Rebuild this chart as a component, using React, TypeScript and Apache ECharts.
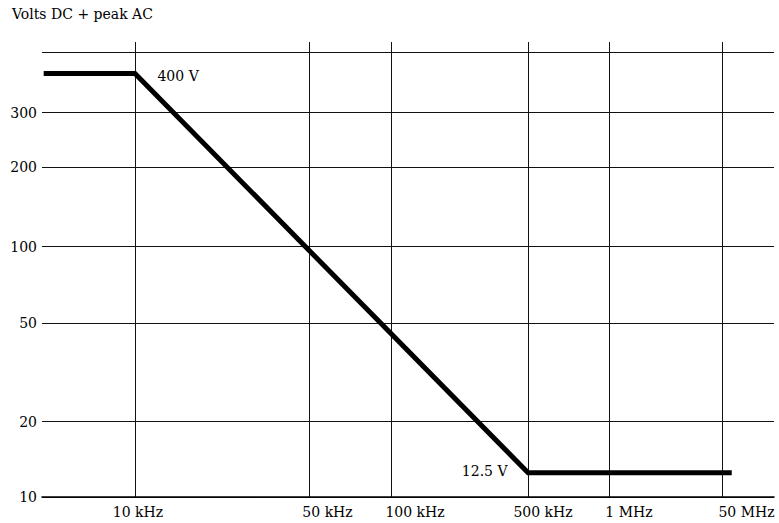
import React, { useEffect, useRef } from "react";
import * as echarts from "echarts";

// ---------- data ----------
const freqTickHz = [1e4, 5e4, 1e5, 5e5, 1e6, 5e7];
const freqTickLabels = ["10 kHz", "50 kHz", "100 kHz", "500 kHz", "1 MHz", "50 MHz"];
const voltTickValues = [10, 20, 50, 100, 200, 300];
const voltTickLabels = ["10", "20", "50", "100", "200", "300"];
const curveFreqHz = [4.3e3, 1e4, 5e5, 7e7];
const curveVolts = [400, 400, 12.5, 12.5];
const annotationFreqHz = [1e4, 5e5];
const annotationVolts = [400, 12.5];
const annotationTexts = ["400 V", "12.5 V"];
const yAxisTitle = "Volts DC + peak AC";

// ---------- axis layout (the schematic, non-uniform log grid of the original) ----------
const PLOT = { left: 42, top: 42, width: 732, height: 455 };
const xGridFrac = [0.127, 0.3648, 0.4768, 0.664, 0.7746, 0.929];
const yGridFrac = [0, 0.1655, 0.3818, 0.5505, 0.7242, 0.845];
const yTopRuleFrac = 0.977;
const xLabelShiftPx = [3, 18.5, 24, 15, 20, 24.5];
const FONT = "DejaVu Serif";
const FONT_SIZE = 14;

// piecewise log scale through the labelled grid lines
function makeLogWarp(vals: number[], units: number[]) {
  const lv = vals.map((v) => Math.log10(v));
  const n = lv.length;
  return (v: number) => {
    const x = Math.log10(v);
    let i = 0;
    if (x <= lv[0]) i = 0;
    else if (x >= lv[n - 1]) i = n - 2;
    else {
      while (i < n - 2 && x > lv[i + 1]) i++;
    }
    const t = (x - lv[i]) / (lv[i + 1] - lv[i]);
    return units[i] + t * (units[i + 1] - units[i]);
  };
}

const wx = makeLogWarp(freqTickHz, xGridFrac);
const wy = makeLogWarp(voltTickValues, yGridFrac);

export default function App() {
  const ref = useRef<HTMLDivElement>(null);
  useEffect(() => {
    if (!ref.current) return;
    const chart = echarts.init(ref.current, undefined, { renderer: "svg" });

    const xTickUnits = freqTickHz.map(wx);
    const xLabelUnits = xTickUnits.map((u, i) => u + xLabelShiftPx[i] / PLOT.width);
    const yTickUnits = voltTickValues.map(wy);

    const findIdx = (arr: number[], v: number) => {
      let best = -1;
      let bd = Infinity;
      arr.forEach((a, i) => {
        const d = Math.abs(a - v);
        if (d < bd) {
          bd = d;
          best = i;
        }
      });
      return bd < 1e-6 ? best : -1;
    };

    const option: any = {
      animation: false,
      textStyle: { fontFamily: FONT, color: "#000" },
      title: {
        text: yAxisTitle,
        left: 12,
        top: 7,
        padding: 0,
        textStyle: { fontFamily: FONT, fontSize: FONT_SIZE, fontWeight: "normal", color: "#000" },
      },
      grid: {
        left: PLOT.left,
        top: PLOT.top,
        width: PLOT.width,
        height: PLOT.height,
        containLabel: false,
        outerBoundsMode: "none",
      },
      xAxis: {
        type: "value",
        min: 0,
        max: 1,
        axisLine: { show: true, lineStyle: { color: "#000", width: 1.6 } },
        axisTick: { show: false, customValues: xTickUnits },
        splitLine: { show: true, lineStyle: { color: "#111", width: 1 } },
        axisLabel: {
          customValues: xLabelUnits,
          margin: 8,
          fontFamily: FONT,
          fontSize: FONT_SIZE,
          color: "#000",
          formatter: (v: number) => {
            const i = findIdx(xLabelUnits, v);
            return i >= 0 ? freqTickLabels[i] : "";
          },
        },
      },
      yAxis: {
        type: "value",
        min: 0,
        max: 1,
        axisLine: { show: false },
        axisTick: { show: false, customValues: [...yTickUnits, yTopRuleFrac] },
        splitLine: { show: true, lineStyle: { color: "#111", width: 1 } },
        axisLabel: {
          customValues: yTickUnits,
          margin: 5,
          fontFamily: FONT,
          fontSize: FONT_SIZE,
          color: "#000",
          formatter: (v: number) => {
            const i = findIdx(yTickUnits, v);
            return i >= 0 ? voltTickLabels[i] : "";
          },
        },
      },
      series: [
        {
          type: "line",
          data: curveFreqHz.map((f, i) => [wx(f), wy(curveVolts[i])]),
          showSymbol: false,
          symbol: "none",
          clip: true,
          lineStyle: { color: "#000", width: 5, join: "miter", cap: "butt" },
          markPoint: {
            symbol: "circle",
            symbolSize: 1,
            itemStyle: { color: "transparent" },
            silent: true,
            data: annotationTexts.map((t, i) => ({
              coord: [wx(annotationFreqHz[i]), wy(annotationVolts[i])],
              value: t,
              label: {
                show: true,
                formatter: t,
                position: i === 0 ? "right" : "left",
                distance: i === 0 ? 22 : 20,
                offset: i === 0 ? [0, 2] : [0, -2],
                fontFamily: FONT,
                fontSize: FONT_SIZE,
                color: "#000",
              },
            })),
          },
        },
      ],
    };
    chart.setOption(option);
    return () => chart.dispose();
  }, []);
  return (
    <div
      ref={ref}
      style={{ position: "fixed", left: 0, top: 0, width: 779, height: 523, background: "#fff" }}
    />
  );
}
